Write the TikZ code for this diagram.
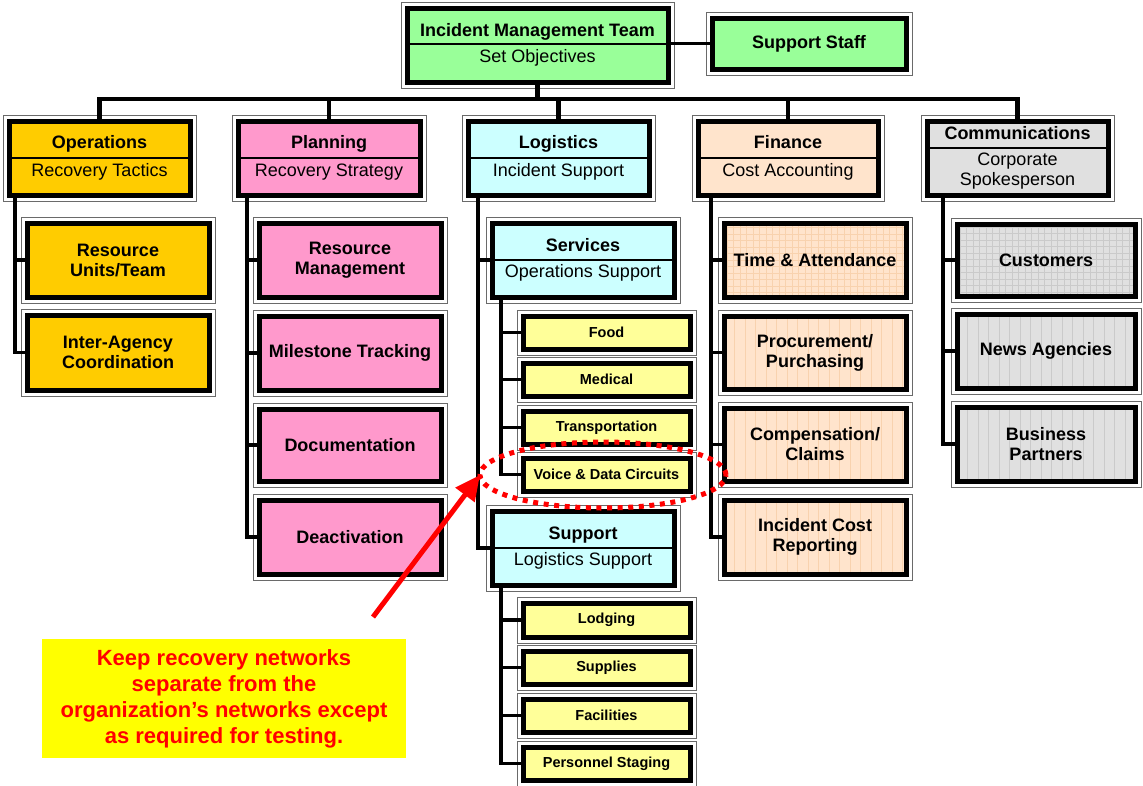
\documentclass[tikz,border=0pt]{standalone}
\usepackage{fontspec}
\setmainfont{Liberation Sans}
\usetikzlibrary{shapes.geometric,arrows.meta}

\definecolor{imtgreen}{HTML}{99FF99}
\definecolor{opsgold}{HTML}{FFCC00}
\definecolor{planpink}{HTML}{FF99CC}
\definecolor{logcyan}{HTML}{CCFFFF}
\definecolor{finpeach}{HTML}{FFE4CC}
\definecolor{comgray}{HTML}{E0E0E0}
\definecolor{taskyellow}{HTML}{FFFF99}
\definecolor{noteyellow}{HTML}{FFFF00}
\definecolor{alertred}{HTML}{FF0000}
\definecolor{peachline}{HTML}{F8D2AE}
\definecolor{grayline}{HTML}{CACACA}
\definecolor{framegray}{HTML}{6A6A6A}

\pgfdeclarelayer{paper}
\pgfdeclarelayer{frames}
\pgfdeclarelayer{links}
\pgfsetlayers{paper,frames,links,main}

% subtitle line in regular weight
\newcommand\subtl[1]{{\mdseries #1}}
% box given by its outer frame corners: style, name, x1, y1, x2, y2, text
\newcommand\obox[7]{\node[box,#1,minimum width={#5-#3-12},minimum height={#6-#4-12}] (#2) at ({(#3+#5)/2},{(#4+#6)/2}) {#7};}

\begin{document}
\begin{tikzpicture}[x=1pt,y=-1pt,
  box/.style={draw=black,line width=5pt,outer sep=0pt,inner sep=0pt,align=center,
    font=\bfseries\fontsize{18}{20}\selectfont},
  small/.style={fill=taskyellow,font=\bfseries\fontsize{14.5}{16}\selectfont},
  gridfill/.style={path picture={\draw[#1,line width=0.5pt]
    (path picture bounding box.south west) grid[step=6.5pt] (path picture bounding box.north east);}},
  stripes/.style={path picture={\foreach \i in {0,...,19}
    \draw[#1,line width=0.5pt] ([xshift=\i*10.5pt]path picture bounding box.north west)
      -- ([xshift=\i*10.5pt]path picture bounding box.south west);}},
  frame/.style={draw=framegray,line width=1pt,fill=white},
  divider/.style={draw=black,line width=1.5pt},
  busline/.style={draw=black,line width=4.5pt},
  spine/.style={draw=black,line width=3.5pt},
  ring/.style={ellipse,draw=alertred,line width=5pt,dash pattern=on 5pt off 5.6pt,
    inner sep=0pt,outer sep=0pt},
  redarrow/.style={draw=alertred,line width=5pt,-{Triangle[length=25pt,width=23pt]}},
  note/.style={fill=noteyellow,text=alertred,align=center,inner sep=0pt,
    font=\bfseries\fontsize{22}{26}\selectfont}
]
\begin{pgfonlayer}{paper}
  \fill[white] (0,0) rectangle (1143,785);
\end{pgfonlayer}
\useasboundingbox (0,0) rectangle (1143,785);

% top level
\obox{fill=imtgreen}{imt}{401}{2}{674}{88}{Incident Management Team\\[6pt]\subtl{Set Objectives}}
\obox{fill=imtgreen}{staff}{706}{12}{912}{75}{Support Staff}

% sections
\obox{fill=opsgold}{ops}{3}{115}{196}{201}{Operations\\[8pt]\subtl{Recovery Tactics}}
\obox{fill=planpink}{plan}{232}{115}{426}{201}{Planning\\[8pt]\subtl{Recovery Strategy}}
\obox{fill=logcyan}{logi}{462}{115}{655}{201}{Logistics\\[8pt]\subtl{Incident Support}}
\obox{fill=finpeach}{fin}{692}{115}{884}{201}{Finance\\[8pt]\subtl{Cost Accounting}}
\obox{fill=comgray}{comm}{921}{115}{1114}{201}{Communications\\[6pt]\subtl{Corporate}\\\subtl{Spokesperson}}

% operations
\obox{fill=opsgold}{ru}{21}{217}{215}{303}{Resource\\Units/Team}
\obox{fill=opsgold}{ia}{21}{309}{215}{396}{Inter-Agency\\Coordination}

% planning
\obox{fill=planpink}{rm}{253}{217}{447}{303}{Resource\\Management}
\obox{fill=planpink}{mt}{253}{310}{447}{396}{Milestone Tracking}
\obox{fill=planpink}{doc}{253}{403}{447}{487}{Documentation}
\obox{fill=planpink}{deac}{253}{494}{447}{580}{Deactivation}

% logistics
\obox{fill=logcyan}{serv}{486}{217}{680}{303}{Services\\[6pt]\subtl{Operations Support}}
\obox{small}{food}{517}{310}{696}{355}{Food}
\obox{small}{med}{517}{357}{696}{402}{Medical}
\obox{small}{trans}{517}{405}{696}{450}{Transportation}
\obox{small}{voice}{517}{452}{696}{497}{Voice \& Data Circuits}
\obox{fill=logcyan}{supp}{486}{505}{680}{591}{Support\\[6pt]\subtl{Logistics Support}}
\obox{small}{lodg}{517}{597}{696}{643}{Lodging}
\obox{small}{suppl}{517}{645}{696}{690}{Supplies}
\obox{small}{facil}{517}{693}{696}{738}{Facilities}
\obox{small}{pers}{517}{741}{696}{786}{Personnel Staging}

% finance
\obox{fill=finpeach,gridfill=peachline}{ta}{718}{217}{912}{303}{Time \& Attendance}
\obox{fill=finpeach,stripes=peachline}{proc}{718}{310}{912}{395}{Procurement/\\Purchasing}
\obox{fill=finpeach,stripes=peachline}{comp}{718}{402}{912}{487}{Compensation/\\Claims}
\obox{fill=finpeach,stripes=peachline}{icr}{718}{494}{912}{580}{Incident Cost\\Reporting}

% communications
\obox{fill=comgray,gridfill=grayline}{cust}{951}{218}{1141}{302}{Customers}
\obox{fill=comgray,stripes=grayline}{news}{951}{308}{1141}{394}{News Agencies}
\obox{fill=comgray,stripes=grayline}{biz}{951}{401}{1141}{487}{Business\\Partners}

% title / subtitle rules
\draw[divider] ([yshift=1pt]imt.west) -- ([yshift=1pt]imt.east);
\foreach \n in {ops,plan,logi,fin,serv,supp}
  \draw[divider] (\n.west) -- (\n.east);
\draw[divider] ([yshift=10pt]comm.west) -- ([yshift=10pt]comm.east);

% outer thin frames
\begin{pgfonlayer}{frames}
\foreach \n in {imt,staff,ops,plan,logi,fin,comm,ru,ia,rm,mt,doc,deac,serv,food,med,trans,voice,
                supp,lodg,suppl,facil,pers,ta,proc,comp,icr,cust,news,biz}
  \draw[frame] ([shift={(-6pt,6pt)}]\n.north west) rectangle ([shift={(6pt,-6pt)}]\n.south east);
\end{pgfonlayer}

% connectors
\begin{pgfonlayer}{links}
\coordinate (bus) at (0,99);
\coordinate (opsX) at (15,0);
\coordinate (planX) at (247,0);
\coordinate (logiX) at (478,0);
\coordinate (servX) at (501,0);
\coordinate (suppX) at (501,0);
\coordinate (finX) at (711,0);
\coordinate (commX) at (943,0);

\draw[spine] (staff.west) -- (staff.west -| imt.east);
\draw[busline] (imt.south) -- (imt.south |- bus);
\draw[busline] ([xshift=-2.25pt]ops.north |- bus) -- ([xshift=2.25pt]comm.north |- bus);
\foreach \n in {ops,plan,logi,fin,comm}
  \draw[busline] (\n.north) -- (\n.north |- bus);

\foreach \n in {ru,ia}            \draw[spine] (ops.south -| opsX) |- (\n.west);
\foreach \n in {rm,mt,doc,deac}   \draw[spine] (plan.south -| planX) |- (\n.west);
\foreach \n in {serv,supp}        \draw[spine] (logi.south -| logiX) |- (\n.west);
\foreach \n in {food,med,trans,voice} \draw[spine] (serv.south -| servX) |- (\n.west);
\foreach \n in {lodg,suppl,facil,pers} \draw[spine] (supp.south -| suppX) |- (\n.west);
\foreach \n in {ta,proc,comp,icr} \draw[spine] (fin.south -| finX) |- (\n.west);
\foreach \n in {cust,news,biz}    \draw[spine] (comm.south -| commX) |- (\n.west);
\end{pgfonlayer}

% highlighted circuits and the note pointing at them
\node[ring,minimum width=246,minimum height=66] (ring) at (603,475) {};
\node[note,minimum width=364,minimum height=119] (note) at (224,698.5)
  {Keep recovery networks\\separate from the\\organization’s networks except\\as required for testing.};
\coordinate (tail) at (373,617);
\draw[redarrow] (tail) -- (ring.west);
\end{tikzpicture}
\end{document}
